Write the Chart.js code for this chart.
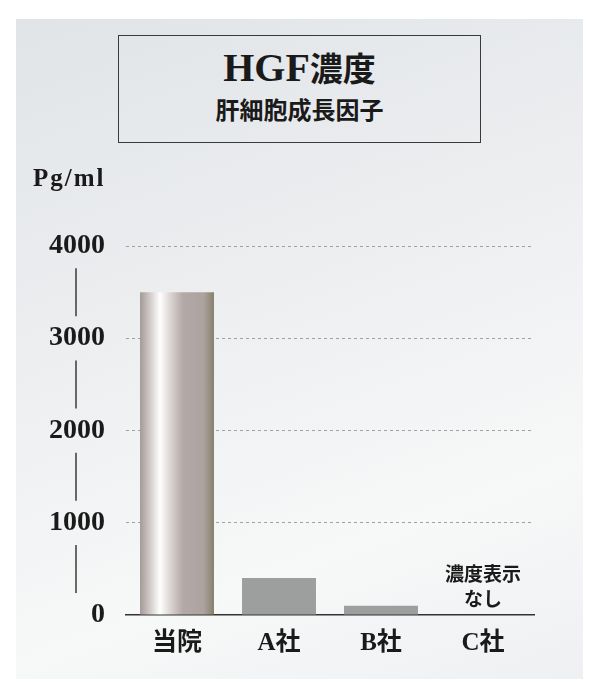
<!DOCTYPE html>
<html>
<head>
<meta charset="utf-8">
<script src="https://cdn.jsdelivr.net/npm/chart.js@4.4.0/dist/chart.umd.min.js"></script>
<style>
  html, body { margin: 0; padding: 0; background: #fff; }
  #wrap { position: relative; width: 600px; height: 700px; overflow: hidden; }
  #panel {
    position: absolute; left: 16px; top: 19px; width: 567px; height: 660px;
    background: linear-gradient(160deg, #e1e4e7 0%, #eceef0 40%, #f7f8f8 75%, #eef0f2 100%);
  }
  #titleBox {
    position: absolute; left: 118px; top: 35px; width: 363px; height: 108px;
    box-sizing: border-box; border: 1px solid #3a3a3a; text-align: center; color: #1a1a1a;
    font-family: 'Liberation Serif', 'Noto Sans CJK JP', serif; font-weight: bold;
  }
  #titleBox .main { position: absolute; left: 0; right: 0; top: 10px; height: 44px; line-height: 44px; }
  #titleBox .main .lat { font-size: 40px; }
  #titleBox .main .cjk { font-size: 33px; }
  #titleBox .sub { position: absolute; left: 0; right: 0; top: 60px; height: 30px; line-height: 30px; font-size: 24px; }
  canvas { position: absolute; left: 0; top: 0; }
</style>
</head>
<body>
<div id="wrap">
  <div id="panel"></div>
  <div id="titleBox">
    <div class="main"><span class="lat">HGF</span><span class="cjk">濃度</span></div>
    <div class="sub">肝細胞成長因子</div>
  </div>
  <canvas id="myChart" width="600" height="700"></canvas>
</div>
<script>
// =====> Data <=====
const categories = ['当院', 'A社', 'B社', 'C社'];
const hgfValues = [3500, 400, 100, null];   // C社: no value given
const yTicks = [0, 1000, 2000, 3000, 4000];
const unitLabel = 'Pg/ml';
const noValueNote = ['濃度表示', 'なし'];

const serif = "'Liberation Serif', 'Noto Sans CJK JP', serif";
const barPct = 0.725;

const ctx = document.getElementById('myChart').getContext('2d');

// silver gradient for our own bar, plain gray for the others
function barColor(c) {
    if (c.dataIndex !== 0) return '#9d9e9e';
    const chart = c.chart;
    const xs = chart.scales.x;
    if (!chart.chartArea || !xs) return '#b0a6a4';
    const center = xs.getPixelForValue(0);
    const w = xs.width / categories.length * barPct;
    const g = chart.ctx.createLinearGradient(center - w / 2, 0, center + w / 2, 0);
    g.addColorStop(0, '#a39a97');
    g.addColorStop(0.12, '#cbc5c3');
    g.addColorStop(0.27, '#ffffff');
    g.addColorStop(0.42, '#d8d2d0');
    g.addColorStop(0.58, '#b3a9a7');
    g.addColorStop(0.86, '#ada2a0');
    g.addColorStop(0.95, '#958d7f');
    g.addColorStop(1, '#857e68');
    return g;
}

// unit label, the little vertical bars between tick labels, and the "no value" note
const extras = {
    id: 'extras',
    afterDraw(chart) {
        const c = chart.ctx;
        const xs = chart.scales.x, ys = chart.scales.y;
        c.save();
        c.fillStyle = '#1a1a1a';
        c.font = 'bold 25px ' + serif;
        c.letterSpacing = '2px';
        c.textAlign = 'left';
        c.textBaseline = 'alphabetic';
        c.fillText(unitLabel, 33, 186);
        c.letterSpacing = '0px';

        c.strokeStyle = '#3a3a3a';
        c.lineWidth = 1.5;
        for (let i = 0; i < yTicks.length - 1; i++) {
            const y = ys.getPixelForValue((yTicks[i] + yTicks[i + 1]) / 2);
            c.beginPath();
            c.moveTo(76, y - 24);
            c.lineTo(76, y + 24);
            c.stroke();
        }

        c.font = 'bold 19px ' + serif;
        c.textAlign = 'center';
        c.textBaseline = 'middle';
        hgfValues.forEach((v, i) => {
            if (v !== null) return;
            const x = xs.getPixelForValue(i);
            const base = ys.getPixelForValue(0);
            c.fillText(noValueNote[0], x, base - 39);
            c.fillText(noValueNote[1], x, base - 14);
        });
        c.restore();
    }
};

const chart = new Chart(ctx, {
    type: 'bar',
    data: {
        labels: categories,
        datasets: [{
            label: 'HGF',
            data: hgfValues,
            backgroundColor: barColor,
            borderWidth: 0,
            barPercentage: barPct,
            categoryPercentage: 1
        }]
    },
    options: {
        responsive: false,
        animation: false,
        layout: { padding: { left: 0, top: 246, right: 66, bottom: 25 } },
        plugins: {
            legend: { display: false },
            tooltip: { enabled: false }
        },
        scales: {
            x: {
                afterFit: (s) => { s.height = 60; },
                grid: { display: false, drawTicks: false },
                border: { display: true, color: '#333', width: 1.5 },
                ticks: {
                    color: '#1a1a1a',
                    padding: 14,
                    font: { family: serif, size: 25, weight: 'bold' }
                }
            },
            y: {
                min: 0,
                max: 4000,
                afterFit: (s) => { s.width = 126; },
                afterBuildTicks: (s) => { s.ticks = yTicks.map(v => ({ value: v })); },
                grid: {
                    drawTicks: false,
                    color: (c) => (c.tick && c.tick.value === 0) ? 'rgba(0,0,0,0)' : '#a0a0a0',
                    lineWidth: 1
                },
                border: { display: false, dash: [3, 3] },
                ticks: {
                    color: '#1a1a1a',
                    padding: 21,
                    callback: (v) => String(v),
                    font: { family: serif, size: 28, weight: 'bold' }
                }
            }
        }
    },
    plugins: [extras]
});
</script>
</body>
</html>
